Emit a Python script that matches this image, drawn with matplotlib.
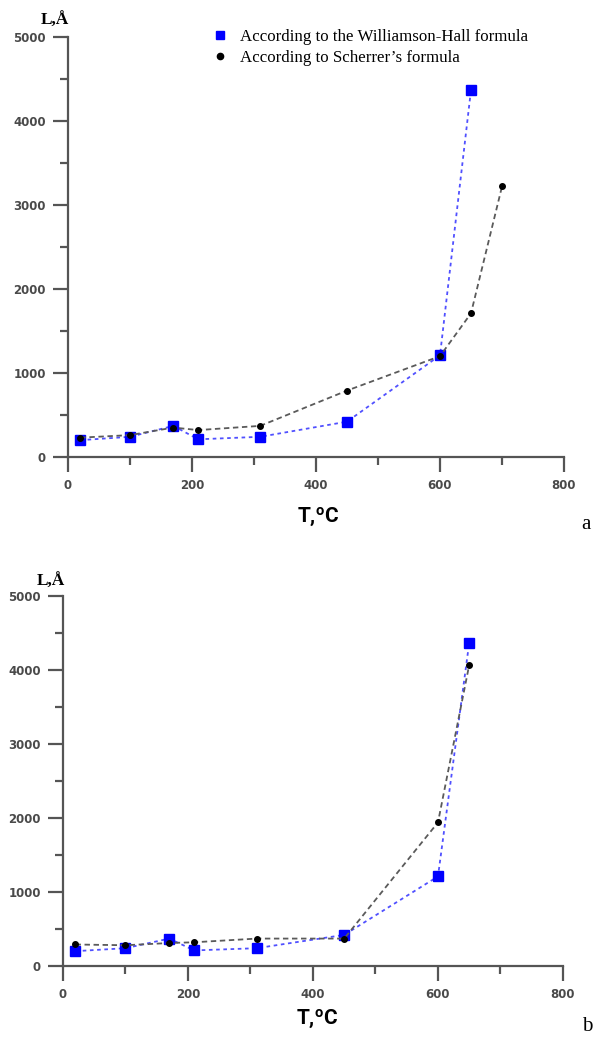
import matplotlib
matplotlib.use("Agg")
import matplotlib.pyplot as plt
from matplotlib.ticker import MultipleLocator

# superscript "o" of the temperature unit in the same bold face
plt.rcParams["mathtext.fontset"] = "custom"
plt.rcParams["mathtext.rm"] = "Roboto:bold"
plt.rcParams["mathtext.bf"] = "Roboto:bold"

# temperatures, degC
t_wh = [20, 100, 170, 210, 310, 450, 600, 650]
t_sch_a = [20, 100, 170, 210, 310, 450, 600, 650, 700]
t_sch_b = [20, 100, 170, 210, 310, 450, 600, 650]

# crystallite size L, angstrom
L_wh = [200, 240, 370, 210, 240, 420, 1210, 4370]
L_sch_a = [230, 260, 350, 320, 370, 790, 1200, 1710, 3220]
L_sch_b = [290, 280, 310, 320, 370, 370, 1940, 4070]

x_ticks = [0, 200, 400, 600, 800]
y_ticks = [0, 1000, 2000, 3000, 4000, 5000]

axis_col = "#555555"


def style_axes(ax):
    ax.set_xlim(0, 800)
    ax.set_ylim(0, 5000)
    ax.set_xticks(x_ticks)
    ax.set_yticks(y_ticks)
    ax.xaxis.set_minor_locator(MultipleLocator(100))
    ax.yaxis.set_minor_locator(MultipleLocator(500))
    for s in ["top", "right"]:
        ax.spines[s].set_visible(False)
    for s in ["left", "bottom"]:
        ax.spines[s].set_color(axis_col)
        ax.spines[s].set_linewidth(1.6)
    ax.tick_params(which="major", direction="out", length=11, width=1.6,
                   color=axis_col, labelcolor="#4a4a4a", labelsize=8.5, pad=5)
    ax.tick_params(which="minor", direction="out", length=6, width=1.6,
                   color=axis_col)
    for lab in ax.get_xticklabels() + ax.get_yticklabels():
        lab.set_fontweight("bold")
        lab.set_family("DejaVu Sans")
    ax.patch.set_alpha(0)


fig = plt.figure(figsize=(6, 10.39), dpi=100)

ax1 = fig.add_axes([0.1133, 0.5602, 0.8267, 0.4042])
ax1.plot(t_wh, L_wh, ls=(0, (2, 2)), lw=1.3, color="#5050ff",
         marker="s", ms=6.5, mfc="#0000ff", mec="#0000ff",
         label="According to the Williamson-Hall formula", zorder=3)
ax1.plot(t_sch_a, L_sch_a, ls=(0, (3, 2)), lw=1.3, color="#5a5a5a",
         marker="o", ms=4, mfc="black", mec="black",
         label="According to Scherrer\u2019s formula", zorder=4)
style_axes(ax1)

h, l = ax1.get_legend_handles_labels()
fig.legend([plt.Line2D([], [], ls="none", marker="s", ms=6, color="#0000ff"),
            plt.Line2D([], [], ls="none", marker="o", ms=4.5, color="black")],
           l, loc="upper left", bbox_to_anchor=(0.33, 0.987), frameon=False,
           prop={"family": "Liberation Serif", "size": 12.2},
           handlelength=0.8, handletextpad=0.75, labelspacing=0.3)

ax2 = fig.add_axes([0.105, 0.0703, 0.8333, 0.3561])
ax2.plot(t_wh, L_wh, ls=(0, (2, 2)), lw=1.3, color="#5050ff",
         marker="s", ms=6.5, mfc="#0000ff", mec="#0000ff", zorder=3)
ax2.plot(t_sch_b, L_sch_b, ls=(0, (3, 2)), lw=1.3, color="#5a5a5a",
         marker="o", ms=4, mfc="black", mec="black", zorder=4)
style_axes(ax2)

y_font = {"family": "Liberation Serif", "weight": "bold", "size": 12.5}
x_font = {"size": 15}
x_label = r"$\mathbf{T{,}^oC}$"
fig.text(0.068, 0.988, "L,\u00c5", ha="left", va="top", **y_font)
fig.text(0.530, 0.5024, x_label, ha="center", va="center", **x_font)
fig.text(0.062, 0.4475, "L,\u00c5", ha="left", va="top", **y_font)
fig.text(0.528, 0.0192, x_label, ha="center", va="center", **x_font)

fig.text(0.985, 0.495, "a", ha="right", va="center",
         family="Liberation Serif", size=15)
fig.text(0.988, 0.012, "b", ha="right", va="center",
         family="Liberation Serif", size=15)

fig.savefig("out.png", dpi=100, facecolor="white")
